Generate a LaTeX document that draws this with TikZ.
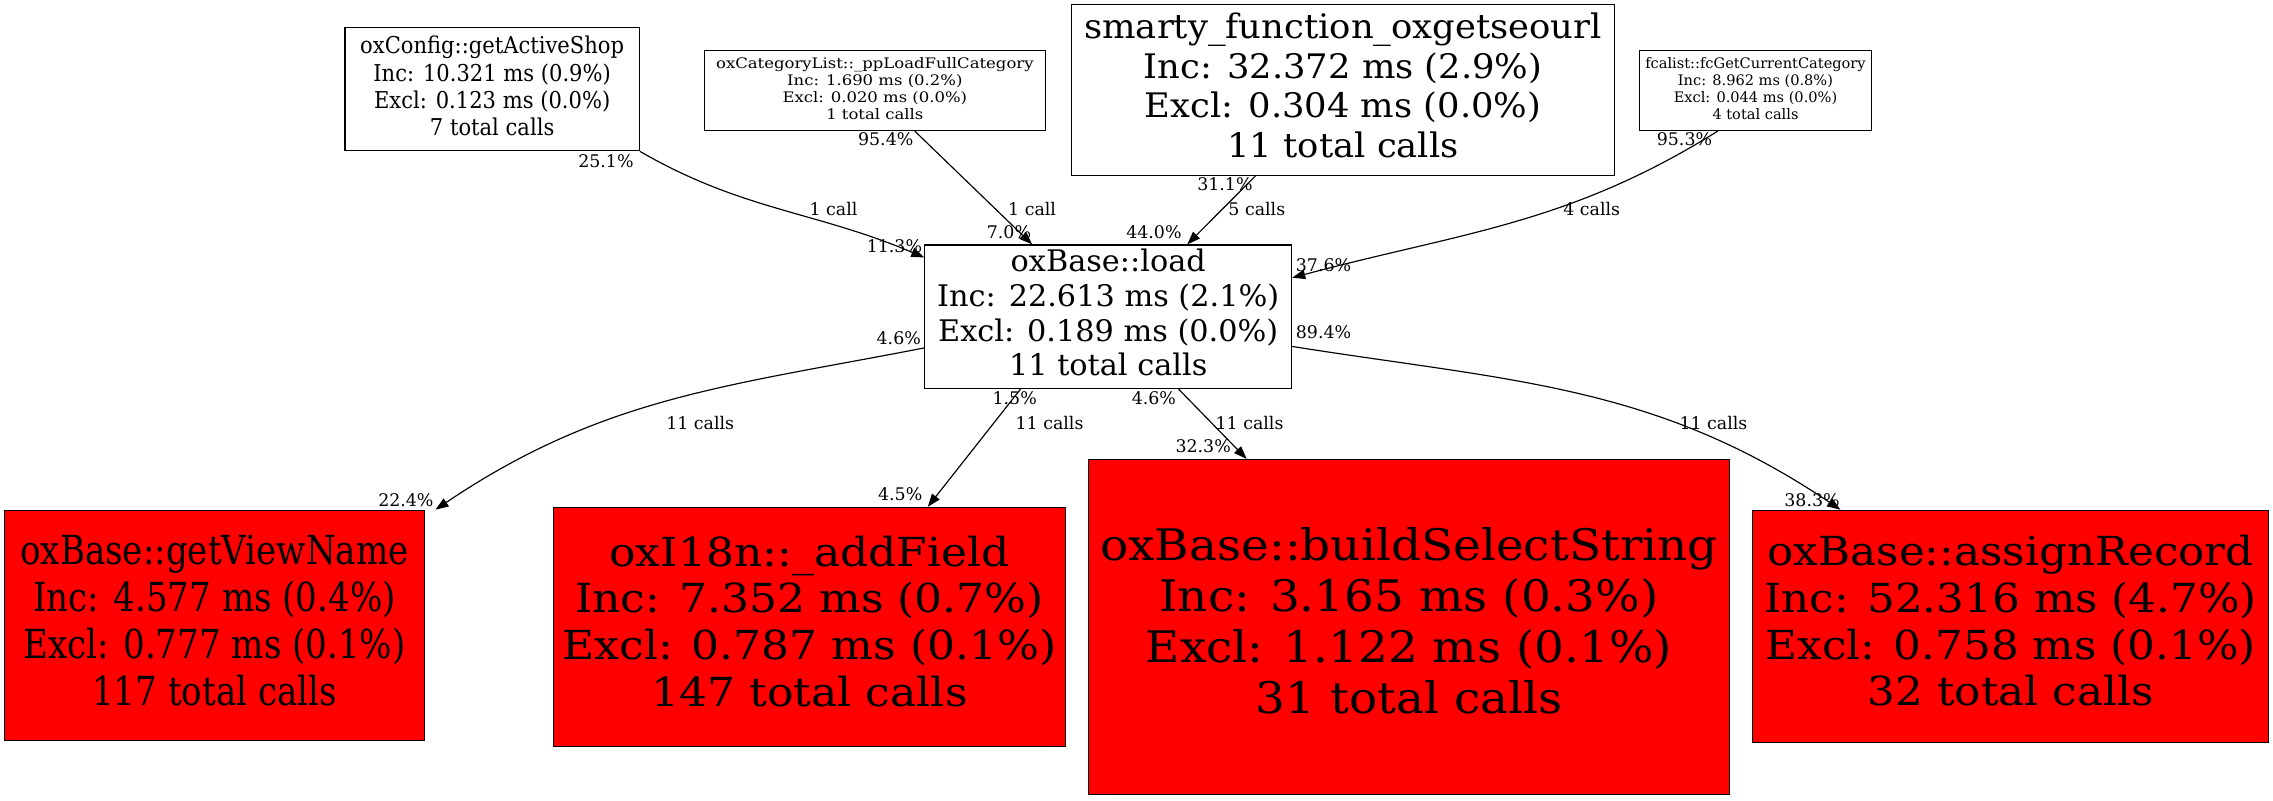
\documentclass[tikz,border=0pt]{standalone}
\usepackage{fontspec}
\setmainfont{DejaVu Serif}
\usepackage{graphicx}
\usetikzlibrary{arrows.meta}
\newcommand\fitlines[4]{\resizebox{#1}{\height}{\fontsize{#2}{#3}\selectfont\begin{tabular}{@{}c@{}}#4\end{tabular}}}
\begin{document}
\begin{tikzpicture}[x=1pt,y=1pt,
  box/.style={draw, line width=0.8pt, inner sep=0pt, anchor=center},
  hot/.style={box, fill=red},
  lbl/.style={font=\fontsize{12}{14}\selectfont, inner sep=0pt, anchor=center},
  edge/.style={line width=0.8pt, -{Triangle[length=9pt,width=6.5pt]}}]
\useasboundingbox (0,0) rectangle (1568,-552);

% top row
\node[box, minimum width=203pt, minimum height=85pt] (cfg) at (339.5,-61.5)
  {\fitlines{182pt}{16}{18.7}{oxConfig::getActiveShop\\Inc: 10.321 ms (0.9\%)\\Excl: 0.123 ms (0.0\%)\\7 total calls}};
\node[box, minimum width=235pt, minimum height=55pt] (cat) at (603.5,-62.5)
  {\fitlines{219pt}{10}{11.7}{oxCategoryList::\_ppLoadFullCategory\\Inc: 1.690 ms (0.2\%)\\Excl: 0.020 ms (0.0\%)\\1 total calls}};
\node[box, minimum width=375pt, minimum height=118pt] (smarty) at (926.5,-62)
  {\fitlines{357pt}{23.3}{27.3}{smarty\_function\_oxgetseourl\\Inc: 32.372 ms (2.9\%)\\Excl: 0.304 ms (0.0\%)\\11 total calls}};
\node[box, minimum width=160pt, minimum height=55pt] (fca) at (1211,-62.5)
  {\fitlines{152pt}{10}{11.7}{fcalist::fcGetCurrentCategory\\Inc: 8.962 ms (0.8\%)\\Excl: 0.044 ms (0.0\%)\\4 total calls}};

% middle
\node[box, minimum width=253pt, minimum height=99pt] (load) at (764.5,-218.5)
  {\fitlines{236pt}{20.5}{24}{oxBase::load\\Inc: 22.613 ms (2.1\%)\\Excl: 0.189 ms (0.0\%)\\11 total calls}};

% bottom row
\node[hot, minimum width=290pt, minimum height=159pt] (gvn) at (148,-431.5)
  {\fitlines{268pt}{27.6}{32.3}{oxBase::getViewName\\Inc: 4.577 ms (0.4\%)\\Excl: 0.777 ms (0.1\%)\\117 total calls}};
\node[hot, minimum width=353pt, minimum height=165pt] (i18n) at (558.5,-432.5)
  {\fitlines{341pt}{27.6}{32.3}{oxI18n::\_addField\\Inc: 7.352 ms (0.7\%)\\Excl: 0.787 ms (0.1\%)\\147 total calls}};
\node[hot, minimum width=442pt, minimum height=231pt] (bss) at (972,-432.5)
  {\fitlines{426pt}{30}{35.3}{oxBase::buildSelectString\\Inc: 3.165 ms (0.3\%)\\Excl: 1.122 ms (0.1\%)\\31 total calls}};
\node[hot, minimum width=356pt, minimum height=160pt] (ar) at (1387,-432)
  {\fitlines{340pt}{27.6}{32.3}{oxBase::assignRecord\\Inc: 52.316 ms (4.7\%)\\Excl: 0.758 ms (0.1\%)\\32 total calls}};

% edges
\draw[edge] (cfg.south east) to[out=-30,in=157] ([yshift=-9pt]load.north west);
\draw[edge] ([xshift=27.5pt]cat.south) -- ([xshift=-52.5pt]load.north);
\draw[edge] ([xshift=-60.5pt]smarty.south) -- ([xshift=54.5pt]load.north);
\draw[edge] ([xshift=-26pt]fca.south) to[out=-148,in=15] ([yshift=-23pt]load.north east);
\draw[edge] ([yshift=-21.5pt]load.west) to[out=191,in=34] ([xshift=7pt]gvn.north east);
\draw[edge] ([xshift=-60.5pt]load.south) -- ([xshift=81.5pt]i18n.north);
\draw[edge] ([xshift=48.5pt]load.south) -- ([xshift=-112pt]bss.north);
\draw[edge] ([yshift=-20.5pt]load.east) to[out=-9,in=146] ([xshift=61pt]ar.north west);

% labels
\node[lbl] (l1) at (418,-111) {25.1\%};
\node[lbl] (l2) at (575,-144) {1 call};
\node[lbl] (l3) at (617,-170) {11.3\%};
\node[lbl] (l4) at (611,-96) {95.4\%};
\node[lbl] (l5) at (712,-144) {1 call};
\node[lbl] (l6) at (696,-160) {7.0\%};
\node[lbl] (l7) at (845,-127) {31.1\%};
\node[lbl] (l8) at (867,-144) {5 calls};
\node[lbl] (l9) at (796,-160) {44.0\%};
\node[lbl] (l10) at (1162,-96) {95.3\%};
\node[lbl] (l11) at (1098,-144) {4 calls};
\node[lbl] (l12) at (913,-183) {37.6\%};
\node[lbl] (l13) at (620,-233) {4.6\%};
\node[lbl] (l14) at (483,-292) {11 calls};
\node[lbl] (l15) at (280,-345) {22.4\%};
\node[lbl] (l16) at (700,-275) {1.5\%};
\node[lbl] (l17) at (724,-292) {11 calls};
\node[lbl] (l18) at (621,-341) {4.5\%};
\node[lbl] (l19) at (796,-275) {4.6\%};
\node[lbl] (l20) at (862,-292) {11 calls};
\node[lbl] (l21) at (830,-308) {32.3\%};
\node[lbl] (l22) at (913,-229) {89.4\%};
\node[lbl] (l23) at (1182,-292) {11 calls};
\node[lbl] (l24) at (1250,-345) {38.3\%};
\end{tikzpicture}
\end{document}
